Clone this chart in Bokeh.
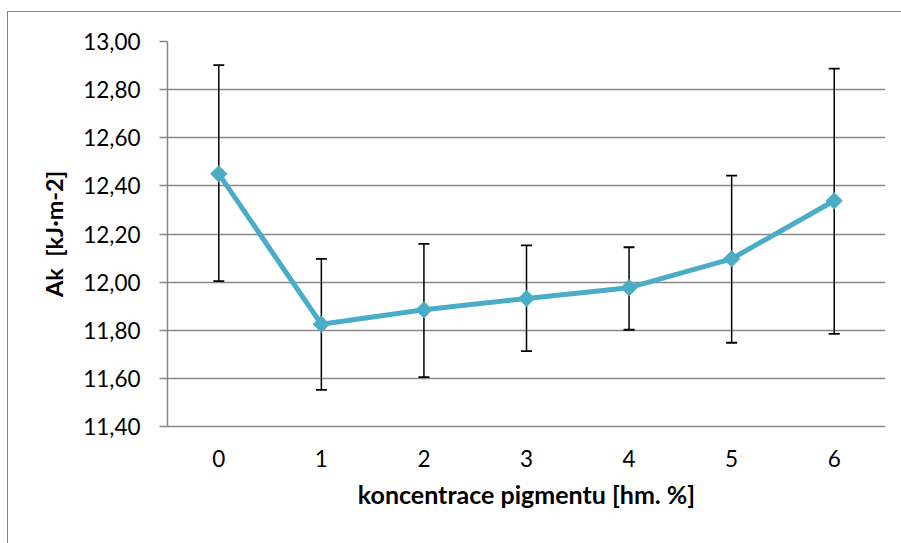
from bokeh.plotting import figure
from bokeh.models import FixedTicker, ColumnDataSource
from bokeh.embed import file_html
from bokeh.resources import INLINE

# data
categories = ["0", "1", "2", "3", "4", "5", "6"]
ak_mean = [12.45, 11.825, 11.885, 11.932, 11.977, 12.097, 12.338]
ak_upper = [12.902, 12.097, 12.159, 12.153, 12.145, 12.443, 12.887]
ak_lower = [12.004, 11.552, 11.605, 11.713, 11.802, 11.748, 11.785]
y_ticks = [11.4, 11.6, 11.8, 12.0, 12.2, 12.4, 12.6, 12.8, 13.0]
y_tick_labels = ["11,40", "11,60", "11,80", "12,00", "12,20", "12,40", "12,60", "12,80", "13,00"]

src = ColumnDataSource(dict(x=categories, y=ak_mean, up=ak_upper, lo=ak_lower))

FONT = "Lato"
GRID = "#878787"

p = figure(
    x_range=categories, y_range=(11.4, 13.0),
    frame_width=718, frame_height=385,
    min_border_left=159, min_border_top=29, min_border_right=16, min_border_bottom=117,
    output_backend="svg", toolbar_location=None,
)
p.styles = {"margin-left": "7px", "margin-top": "11px",
            "border-left": f"1.5px solid {GRID}", "border-top": f"1.5px solid {GRID}"}
p.outline_line_color = None
p.background_fill_color = "white"
p.border_fill_color = "white"

# axes
p.yaxis.ticker = FixedTicker(ticks=y_ticks)
p.yaxis.major_label_overrides = {t: l for t, l in zip(y_ticks, y_tick_labels)}
p.yaxis.axis_line_color = GRID
p.yaxis.major_tick_line_color = GRID
p.yaxis.major_tick_out = 8
p.yaxis.major_tick_in = 0
p.yaxis.minor_tick_line_color = None
p.yaxis.major_label_standoff = 19
p.yaxis.axis_label = "Ak\u00a0 [kJ·m-2]"
p.yaxis.axis_label_standoff = 12

p.xaxis.axis_line_color = GRID
p.xaxis.major_tick_line_color = None
p.xaxis.major_tick_out = 0
p.xaxis.major_label_standoff = 23
p.xaxis.axis_label = "koncentrace pigmentu [hm. %]"
p.xaxis.axis_label_standoff = 9

for ax in (p.xaxis, p.yaxis):
    ax.major_label_text_font = FONT
    ax.major_label_text_font_size = "22.5px"
    ax.major_label_text_color = "black"
    ax.axis_label_text_font = FONT
    ax.axis_label_text_font_style = "bold"
    ax.axis_label_text_color = "black"
    ax.axis_line_width = 1.5
    ax.major_tick_line_width = 1.5
p.xaxis.axis_label_text_font_size = "25px"
p.yaxis.axis_label_text_font_size = "23.5px"

p.xgrid.grid_line_color = None
p.ygrid.grid_line_color = GRID
p.ygrid.grid_line_width = 1.5

# error bars
p.segment(x0="x", y0="lo", x1="x", y1="up", source=src, line_color="black", line_width=1.5)
p.scatter(x="x", y="up", source=src, marker="dash", size=11, line_color="black", line_width=1.8)
p.scatter(x="x", y="lo", source=src, marker="dash", size=11, line_color="black", line_width=1.8)

# series
p.line(x="x", y="y", source=src, line_color="#4BACC6", line_width=5)
p.scatter(x="x", y="y", source=src, marker="square", angle=0.785398, size=11.5,
          fill_color="#4BACC6", line_color="#4BACC6")

open("out.html", "w").write(file_html(p, INLINE))
